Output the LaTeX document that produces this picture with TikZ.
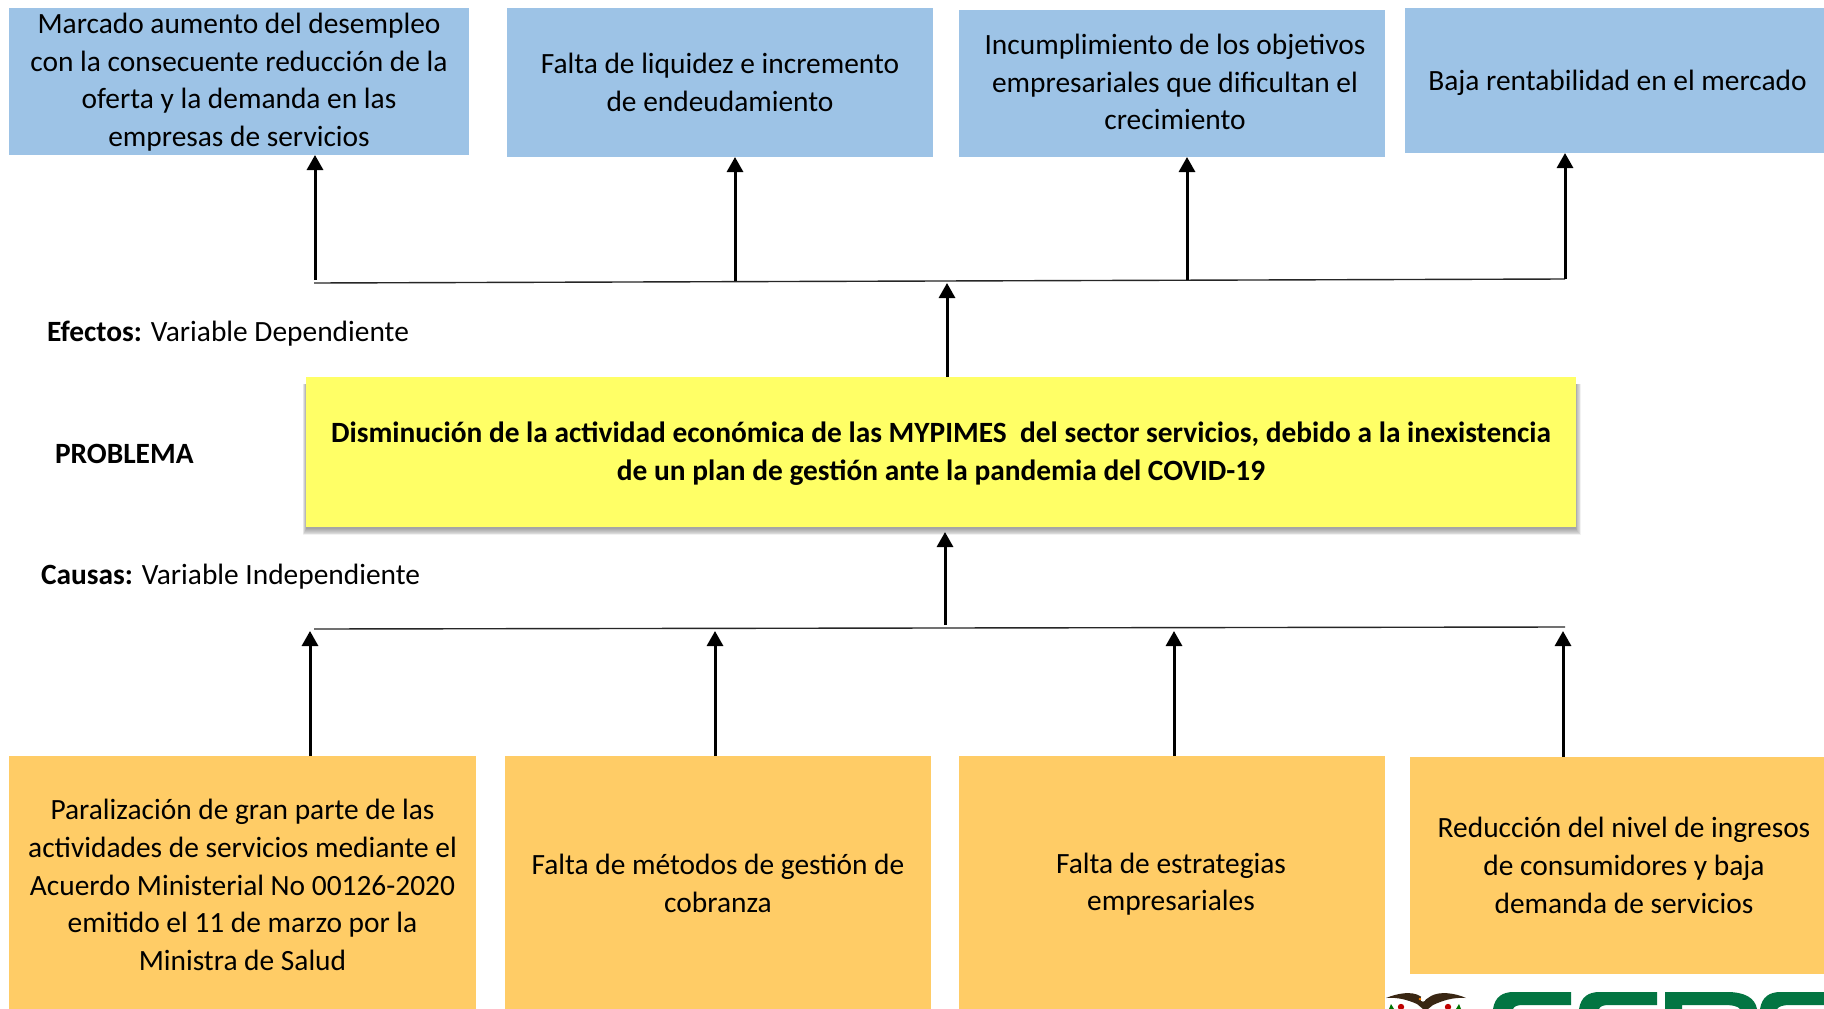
\documentclass[tikz,border=0pt]{standalone}
\usepackage{fontspec}
\setmainfont{Carlito}
\usetikzlibrary{arrows.meta}
\definecolor{bluebox}{HTML}{9DC3E6}
\definecolor{orangebox}{HTML}{FFCC66}
\definecolor{yellowbox}{HTML}{FFFF66}
\definecolor{logogreen}{HTML}{037542}
% text block moved by #1 right and #2 down inside its box, box size untouched
\newcommand{\mvtxt}[3]{\raisebox{\dimexpr(\depth-\height)/2-#2pt\relax}[0pt][0pt]{\hspace*{\dimexpr 2\dimexpr #1pt\relax\relax}\begin{tabular}{@{}c@{}}#3\end{tabular}}}
\tikzset{
  basebox/.style={anchor=north west,inner sep=0pt,outer sep=0pt,align=center,text=black,
    font=\fontsize{29.4}{37.8}\selectfont},
  effectbox/.style={basebox,fill=bluebox},
  causebox/.style={basebox,fill=orangebox},
  problembox/.style={basebox,fill=yellowbox,font=\fontsize{29.4}{37.8}\selectfont\bfseries},
  label/.style={inner sep=0pt,outer sep=0pt,anchor=west,font=\fontsize{29.4}{34}\selectfont},
  bus/.style={line width=1.4pt,draw=black!85},
  arr/.style={line width=3pt,-{Triangle[length=15pt,width=16pt]},draw=black},
  lg/.style={fill=logogreen,draw=none},
}
\begin{document}
\begin{tikzpicture}[x=1pt,y=-1pt]
\useasboundingbox (0,0) rectangle (1824,1009);
\fill[white] (0,0) rectangle (1824,1009);
\clip (0,0) rectangle (1824,1009);
% shadow of the problem box
\foreach \s in {7,6,5,4,3,2,1,0}{
  \fill[black,opacity=.05] (306-\s*.45,384) rectangle (1576+\s*.7,529+\s*.9);
}
% effect boxes
\node[effectbox,minimum width=460pt,minimum height=147pt] (e1) at (9,8) {\mvtxt{0}{1}{Marcado aumento del desempleo\\con la consecuente reducción de la\\oferta y la demanda en las\\empresas de servicios}};
\node[effectbox,minimum width=426pt,minimum height=149pt] (e2) at (507,8) {\mvtxt{0}{2.5}{Falta de liquidez e incremento\\de endeudamiento}};
\node[effectbox,minimum width=426pt,minimum height=147pt] (e3) at (959,10) {\mvtxt{3}{1}{Incumplimiento de los objetivos\\empresariales que dificultan el\\crecimiento}};
\node[effectbox,minimum width=419pt,minimum height=145pt] (e4) at (1405,8) {\mvtxt{3}{2}{Baja rentabilidad en el mercado}};
% problem box
\node[problembox,minimum width=1270pt,minimum height=150pt] (p) at (306,377) {\mvtxt{0}{2}{Disminución de la actividad económica de las MYPIMES\ \ del sector servicios, debido a la inexistencia\\de un plan de gestión ante la pandemia del COVID-19}};
% cause boxes
\node[causebox,minimum width=467pt,minimum height=253pt] (c1) at (9,756) {\mvtxt{0}{5}{Paralización de gran parte de las\\actividades de servicios mediante el\\Acuerdo Ministerial No 00126-2020\\emitido el 11 de marzo por la\\Ministra de Salud}};
\node[causebox,minimum width=426pt,minimum height=253pt] (c2) at (505,756) {\mvtxt{0}{3.5}{Falta de métodos de gestión de\\cobranza}};
\node[causebox,minimum width=426pt,minimum height=253pt] (c3) at (959,756) {\mvtxt{-1}{2}{Falta de estrategias\\empresariales}};
\node[causebox,minimum width=414pt,minimum height=217pt] (c4) at (1410,757) {\mvtxt{7}{2.5}{Reducción del nivel de ingresos\\de consumidores y baja\\demanda de servicios}};
% labels
\node[label] (lef) at (47,334) {\textbf{Efectos:} Variable Dependiente};
\node[label] (lpr) at (55,454) {\textbf{PROBLEMA}};
\node[label] (lca) at (41,577) {\textbf{Causas:} Variable Independiente};
% buses
\coordinate (tl) at (314,283);
\coordinate (tr) at (1565,279);
\coordinate (bl) at (314,629);
\coordinate (br) at (1565,627);
\draw[bus] (tl) -- (tr);
\draw[bus] (bl) -- (br);
% upper arrows
\coordinate (u1) at (315,280);
\coordinate (u2) at (735,281);
\coordinate (u3) at (1187,280);
\coordinate (u4) at (1565,279);
\draw[arr] (u1) -- (u1 |- e1.south);
\draw[arr] (u2) -- (u2 |- e2.south);
\draw[arr] (u3) -- (u3 |- e3.south);
\draw[arr] (u4) -- (u4 |- e4.south);
\coordinate (ut) at (947,283);
\draw[arr] (ut |- p.north) -- (ut);
% lower arrows
\coordinate (d1) at (310,631);
\coordinate (d2) at (715,631);
\coordinate (d3) at (1174,631);
\coordinate (d4) at (1563,631);
\draw[arr] (d1 |- c1.north) -- (d1);
\draw[arr] (d2 |- c2.north) -- (d2);
\draw[arr] (d3 |- c3.north) -- (d3);
\draw[arr] (d4 |- c4.north) -- (d4);
\coordinate (mb) at (945,625);
\coordinate (mt) at (945,532);
\draw[arr] (mb) -- (mt);
% logo, cut by the lower edge of the picture
\fill[lg] (1493,1009) .. controls (1495,997) and (1502,992) .. (1514,992) -- (1571,992) -- (1571,1005) -- (1523,1005) .. controls (1518,1005) and (1514,1006) .. (1513,1009) -- cycle;
\fill[lg] (1579,1009) .. controls (1581,997) and (1588,992) .. (1600,992) -- (1657,992) -- (1657,1005) -- (1609,1005) .. controls (1604,1005) and (1600,1006) .. (1599,1009) -- cycle;
\fill[lg] (1665,1009) -- (1665,992) -- (1727,992) .. controls (1745,992) and (1755,998) .. (1757,1009) -- (1740,1009) .. controls (1738,1006) and (1732,1005) .. (1723,1005) -- (1682,1005) -- (1682,1009) -- cycle;
\fill[lg] (1760,1009) .. controls (1762,997) and (1769,992) .. (1781,992) -- (1824,992) -- (1824,1005) -- (1790,1005) .. controls (1784,1005) and (1779,1006) .. (1777,1009) -- cycle;
% crest
\fill[black!70!brown] (1386,998) .. controls (1398,993) and (1412,991) .. (1420,996) -- (1425,1000) -- (1431,996) .. controls (1440,991) and (1455,993) .. (1466,998) .. controls (1452,997) and (1442,1001) .. (1433,1005) -- (1428,1009) -- (1423,1009) -- (1417,1004) .. controls (1408,1000) and (1398,997) .. (1386,998) -- cycle;
\fill[white] (1423,999) circle (2.6pt);
\fill[orange] (1420,999) circle (1.4pt);
\fill[red!75!black] (1401,1007) circle (3.2pt);
\fill[red!75!black] (1448,1007) circle (3.2pt);
\fill[green!45!black] (1389,1009) -- (1391,1004) -- (1394,1009) -- cycle;
\fill[green!45!black] (1456,1009) -- (1459,1004) -- (1461,1009) -- cycle;
\end{tikzpicture}
\end{document}
